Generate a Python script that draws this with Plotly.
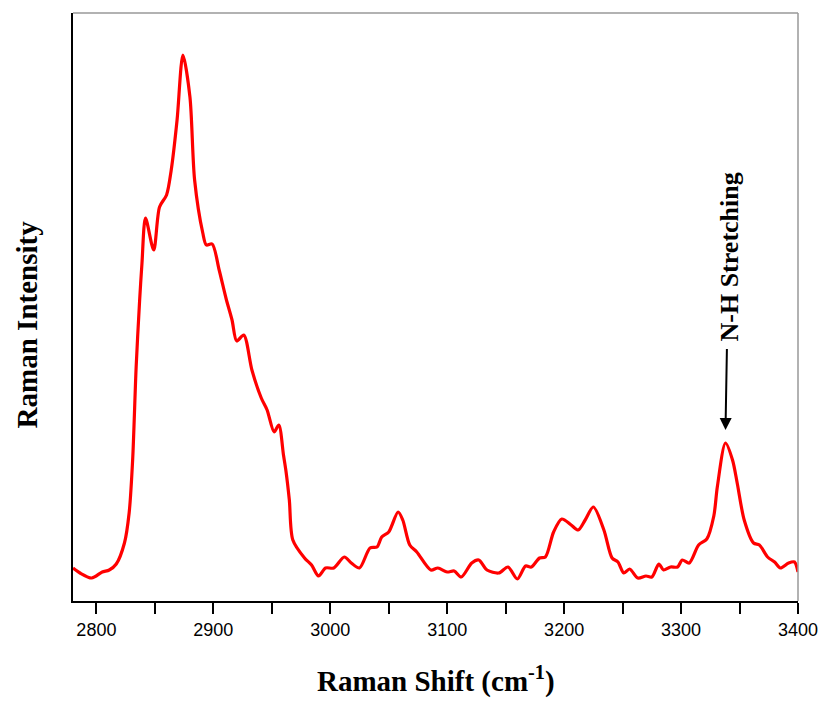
import plotly.graph_objects as go

shift = [2780, 2786, 2796, 2805, 2811, 2817, 2824, 2828, 2831, 2834, 2837, 2839, 2842, 2849, 2854,
         2860, 2864, 2869, 2874, 2880, 2884, 2891, 2894, 2899, 2905, 2911, 2916, 2920, 2926, 2933,
         2941, 2946, 2952, 2956, 2960, 2962, 2965, 2968, 2978, 2984, 2990, 2996, 3003, 3012, 3018,
         3025, 3034, 3040, 3044, 3050, 3058, 3062, 3068, 3074, 3086, 3092, 3100, 3106, 3112, 3121,
         3127, 3134, 3144, 3152, 3160, 3167, 3172, 3179, 3184, 3191, 3198, 3206, 3212, 3218, 3225,
         3234, 3241, 3246, 3251, 3256, 3263, 3270, 3275, 3281, 3285, 3291, 3297, 3301, 3307, 3315,
         3322, 3328, 3331, 3338, 3344, 3348, 3354, 3362, 3367, 3374, 3380, 3385, 3392, 3397, 3400]
intensity = [33, 28, 23, 29, 31, 37, 58, 88, 141, 234, 301, 338, 383, 351, 394,
             406, 431, 481, 546, 504, 421, 368, 356, 357, 331, 302, 281, 260, 266, 231,
             203, 191, 169, 176, 146, 131, 101, 61, 43, 36, 25, 33, 33, 44, 38,
             33, 53, 54, 64, 69, 89, 81, 56, 49, 31, 33, 29, 30, 24, 38,
             41, 31, 28, 34, 22, 35, 34, 43, 44, 69, 82, 76, 71, 81, 94,
             71, 43, 39, 28, 32, 23, 25, 24, 37, 31, 34, 34, 41, 38, 56,
             62, 85, 114, 158, 141, 118, 81, 58, 56, 44, 39, 33, 38, 39, 29]

x_tickvals = [2800, 2850, 2900, 2950, 3000, 3050, 3100, 3150, 3200, 3250, 3300, 3350, 3400]
x_ticktext = ["2800", "", "2900", "", "3000", "", "3100", "", "3200", "", "3300", "", "3400"]
x_range = [2780, 3400]
y_range = [0, 588]

peak_label = "N-H Stretching"
peak_x = 3338
peak_y = 171

serif = "Liberation Serif, Times New Roman, serif"
sans = "Liberation Sans, Arial, sans-serif"

fig = go.Figure()
fig.add_trace(go.Scatter(
    x=shift, y=intensity, mode="lines",
    line=dict(color="#ff0000", width=3.2, shape="spline", smoothing=0.8),
    hoverinfo="x+y", showlegend=False,
))

fig.update_layout(
    width=830, height=702,
    margin=dict(l=73, r=29, t=13, b=101),
    paper_bgcolor="white", plot_bgcolor="white",
    xaxis=dict(
        range=x_range, tickmode="array", tickvals=x_tickvals, ticktext=x_ticktext,
        showgrid=False, zeroline=False,
        showline=True, linecolor="black", linewidth=2,
        ticks="outside", ticklen=11, tickwidth=2, tickcolor="black",
        tickfont=dict(family=sans, size=18, color="black"),
    ),
    yaxis=dict(
        range=y_range, showticklabels=False, ticks="",
        showgrid=False, zeroline=False,
        showline=True, linecolor="black", linewidth=2,
    ),
    shapes=[
        dict(type="line", xref="paper", yref="paper", x0=0, x1=1, y0=1, y1=1,
             line=dict(color="#999999", width=1.5)),
        dict(type="line", xref="paper", yref="paper", x0=1, x1=1, y0=0, y1=1,
             line=dict(color="#999999", width=1.5)),
    ],
    annotations=[
        dict(text="<b>Raman Shift (cm<sup>-1</sup>)</b>", xref="paper", yref="paper",
             x=0.5, y=-0.134, xanchor="center", yanchor="middle", showarrow=False,
             font=dict(family=serif, size=29, color="black")),
        dict(text="<b>Raman Intensity</b>", xref="paper", yref="paper",
             x=-0.063, y=0.471, xanchor="center", yanchor="middle", showarrow=False,
             textangle=-90, font=dict(family=serif, size=29, color="black")),
        dict(text="<b>" + peak_label + "</b>", x=peak_x, y=peak_y, xref="x", yref="y",
             ax=3, ay=-173, axref="pixel", ayref="pixel", textangle=-90,
             showarrow=True, arrowhead=2, arrowsize=1.2, arrowwidth=2, arrowcolor="black",
             standoff=0, startstandoff=6, font=dict(family=serif, size=26, color="black")),
    ],
)

fig.write_html("out.html")
